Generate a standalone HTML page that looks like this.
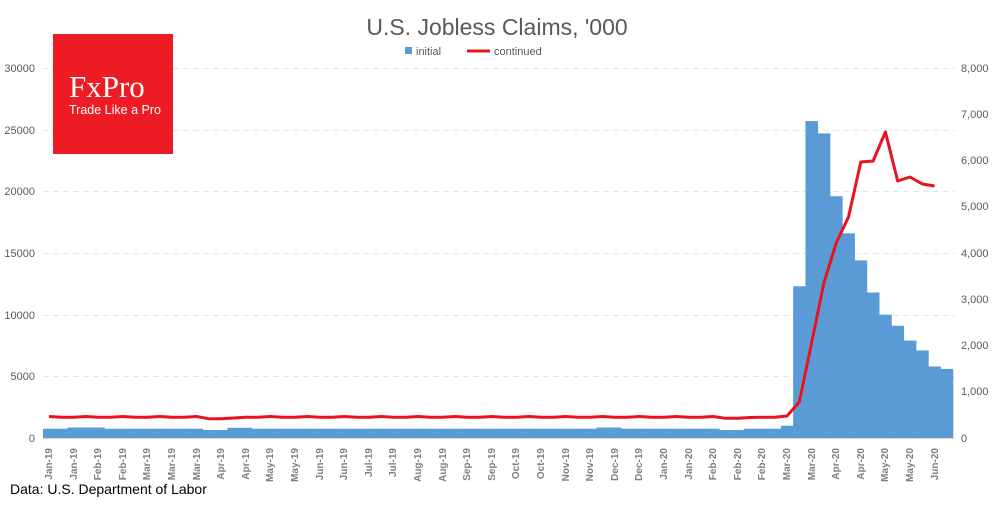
<!DOCTYPE html>
<html><head><meta charset="utf-8"><style>
body{margin:0;background:#fff;width:1000px;height:500px;overflow:hidden;font-family:"Liberation Sans",sans-serif}
</style></head><body>
<svg id="s" width="1000" height="500" xmlns="http://www.w3.org/2000/svg" font-family="Liberation Sans, sans-serif">
<text x="497" y="35" text-anchor="middle" font-size="23" fill="#595959">U.S. Jobless Claims, '000</text>
<rect x="405" y="47" width="7" height="7" fill="#5b9bd5"/>
<text x="416" y="55" font-size="11" fill="#595959">initial</text>
<line x1="467" y1="51" x2="490" y2="51" stroke="#e8131d" stroke-width="3"/>
<text x="494" y="55" font-size="11" fill="#595959">continued</text>
<g stroke="#e4e4e4" stroke-dasharray="6,4" stroke-width="1">
<line x1="43" x2="955" y1="68.5" y2="68.5"/><line x1="43" x2="955" y1="130.5" y2="130.5"/><line x1="43" x2="955" y1="191.5" y2="191.5"/><line x1="43" x2="955" y1="253.5" y2="253.5"/><line x1="43" x2="955" y1="315.5" y2="315.5"/><line x1="43" x2="955" y1="376.5" y2="376.5"/>
</g>
<g font-size="11" fill="#595959" text-anchor="end">
<text x="35" y="72">30000</text><text x="35" y="134">25000</text><text x="35" y="195">20000</text><text x="35" y="257">15000</text><text x="35" y="319">10000</text><text x="35" y="380">5000</text><text x="35" y="442">0</text>
</g>
<g font-size="11" fill="#595959">
<text x="961" y="72">8,000</text><text x="961" y="118">7,000</text><text x="961" y="164">6,000</text><text x="961" y="210">5,000</text><text x="961" y="257">4,000</text><text x="961" y="303">3,000</text><text x="961" y="349">2,000</text><text x="961" y="395">1,000</text><text x="961" y="442">0</text>
</g>
<g id="bars" fill="#5b9bd5"></g>
<line x1="43" x2="955" y1="438.5" y2="438.5" stroke="#d9d9d9"/>
<polyline id="ln" fill="none" stroke="#e8131d" stroke-width="3" stroke-linejoin="round"/>
<g id="xl" font-size="10" font-weight="bold" fill="#7f7f7f" text-anchor="end">
<text transform="translate(52,448) rotate(-90)">Jan-19</text>
<text transform="translate(77,448) rotate(-90)">Jan-19</text>
<text transform="translate(101,448) rotate(-90)">Feb-19</text>
<text transform="translate(126,448) rotate(-90)">Feb-19</text>
<text transform="translate(150,448) rotate(-90)">Mar-19</text>
<text transform="translate(175,448) rotate(-90)">Mar-19</text>
<text transform="translate(200,448) rotate(-90)">Mar-19</text>
<text transform="translate(224,448) rotate(-90)">Apr-19</text>
<text transform="translate(249,448) rotate(-90)">Apr-19</text>
<text transform="translate(273,448) rotate(-90)">May-19</text>
<text transform="translate(298,448) rotate(-90)">May-19</text>
<text transform="translate(323,448) rotate(-90)">Jun-19</text>
<text transform="translate(347,448) rotate(-90)">Jun-19</text>
<text transform="translate(372,448) rotate(-90)">Jul-19</text>
<text transform="translate(396,448) rotate(-90)">Jul-19</text>
<text transform="translate(421,448) rotate(-90)">Aug-19</text>
<text transform="translate(446,448) rotate(-90)">Aug-19</text>
<text transform="translate(470,448) rotate(-90)">Sep-19</text>
<text transform="translate(495,448) rotate(-90)">Sep-19</text>
<text transform="translate(519,448) rotate(-90)">Oct-19</text>
<text transform="translate(544,448) rotate(-90)">Oct-19</text>
<text transform="translate(569,448) rotate(-90)">Nov-19</text>
<text transform="translate(593,448) rotate(-90)">Nov-19</text>
<text transform="translate(618,448) rotate(-90)">Dec-19</text>
<text transform="translate(642,448) rotate(-90)">Dec-19</text>
<text transform="translate(667,448) rotate(-90)">Jan-20</text>
<text transform="translate(692,448) rotate(-90)">Jan-20</text>
<text transform="translate(716,448) rotate(-90)">Feb-20</text>
<text transform="translate(741,448) rotate(-90)">Feb-20</text>
<text transform="translate(765,448) rotate(-90)">Feb-20</text>
<text transform="translate(790,448) rotate(-90)">Mar-20</text>
<text transform="translate(815,448) rotate(-90)">Mar-20</text>
<text transform="translate(839,448) rotate(-90)">Apr-20</text>
<text transform="translate(864,448) rotate(-90)">Apr-20</text>
<text transform="translate(888,448) rotate(-90)">May-20</text>
<text transform="translate(913,448) rotate(-90)">May-20</text>
<text transform="translate(938,448) rotate(-90)">Jun-20</text>
</g>
<text x="10" y="494" font-size="14" fill="#000">Data: U.S. Department of Labor</text>
<rect x="53" y="34" width="120" height="120" fill="#ed1c24"/>
<text x="69" y="97" font-family="Liberation Serif, serif" font-size="31" fill="#fff">FxPro</text>
<text x="69" y="114" font-size="12.5" fill="#fff">Trade Like a Pro</text>
</svg>
<script>
var v=[];for(var i=0;i<74;i++){var b=750;if(i>=2&&i<=4)b=850;if(i>=13&&i<=14)b=650;if(i>=15&&i<=16)b=830;if(i>=45&&i<=46)b=850;if(i>=55&&i<=56)b=650;v.push(b);}
var big={60:1000,61:12300,62:25700,63:24700,64:19600,65:16600,66:14400,67:11800,68:10000,69:9100,70:7900,71:7100,72:5800,73:5600};
for(var k in big)v[k]=big[k];
var w=910/74,g=document.getElementById('bars'),h='';
for(var i=0;i<74;i++){var y=438-v[i]*370/30000;h+='<rect x="'+(43+i*w)+'" y="'+y+'" width="'+(w+0.3)+'" height="'+(438-y)+'"/>';}
g.innerHTML=h;
var ly={60:416,61:402,62:343,63:283,64:243,65:217,66:162,67:161,68:132,69:181,70:177,71:184,72:186};
var p=[];for(var i=0;i<=72;i++){var y=ly[i]!==undefined?ly[i]:(417+((i>=13&&i<=15)?1.5:0)+((i>=55&&i<=57)?1:0)+(i%3==0?-0.5:0.3));p.push((43+w*(i+0.5)).toFixed(1)+','+y);}
document.getElementById('ln').setAttribute('points',p.join(' '));
</script>
</body></html>
